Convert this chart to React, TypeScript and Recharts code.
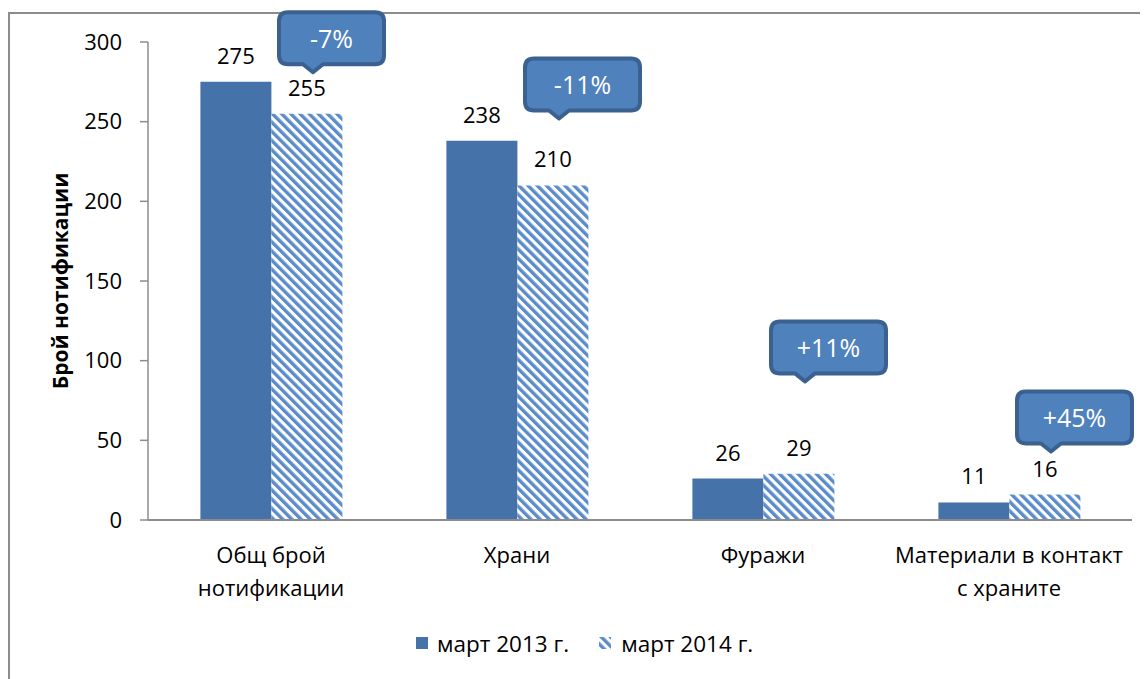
import React from 'react';
import { BarChart, Bar, XAxis, YAxis, LabelList, ReferenceDot } from 'recharts';

const categories = ['Общ брой\nнотификации', 'Храни', 'Фуражи', 'Материали в контакт\nс храните'];
const march2013 = [275, 238, 26, 11];
const march2014 = [255, 210, 29, 16];
const changeLabels = ['-7%', '-11%', '+11%', '+45%'];
const calloutAnchor = [281, 252, 87, 43];
const yTicks = [0, 50, 100, 150, 200, 250, 300];
const seriesNames = ['март 2013 г.', 'март 2014 г.'];

const data = categories.map((c, i) => ({ category: c, m2013: march2013[i], m2014: march2014[i] }));

const FONT = "'Open Sans', 'Noto Sans', sans-serif";
const DARK = '#4672AA';
const STRIPE = '#5A8BCB';
const AXIS = '#8c8c8c';

const Callout = ({ cx, cy, text }: any) => {
  if (cx == null || cy == null) return null;
  const tipX = cx + 42;
  const tipY = cy;
  const W = 75 + 10 * text.length;
  const H = 52;
  const L = tipX - 34;
  const T = tipY - 8 - H;
  const r = 9;
  const d = `M ${L + r},${T} H ${L + W - r} Q ${L + W},${T} ${L + W},${T + r} V ${T + H - r} Q ${L + W},${T + H} ${L + W - r},${T + H} H ${tipX + 10} L ${tipX},${T + H + 8} L ${tipX - 10},${T + H} H ${L + r} Q ${L},${T + H} ${L},${T + H - r} V ${T + r} Q ${L},${T} ${L + r},${T} Z`;
  return (
    <g>
      <path d={d} fill="#4F81BD" stroke="#3A6190" strokeWidth={4} strokeLinejoin="round" />
      <text x={L + W / 2} y={T + H / 2} textAnchor="middle" dominantBaseline="central" fill="#ffffff" fontSize={25} fontFamily={FONT}>
        {text}
      </text>
    </g>
  );
};

const XTick = ({ x, y, payload }: any) => {
  const lines = String(payload.value).split('\n');
  return (
    <g>
      {lines.map((ln, i) => (
        <text key={i} x={x} y={y + 35 + i * 33} textAnchor="middle" fill="#000" fontSize={22} fontFamily={FONT}>
          {ln}
        </text>
      ))}
    </g>
  );
};

const YLabel = ({ viewBox }: any) => {
  const cx = viewBox.x + 52;
  const cy = viewBox.y + viewBox.height / 2;
  return (
    <text x={cx} y={cy} transform={`rotate(-90, ${cx}, ${cy})`} textAnchor="middle" dominantBaseline="central" fontSize={21} fontWeight="bold" fontFamily={FONT} fill="#000">
      Брой нотификации
    </text>
  );
};

export default function App() {
  return (
    <div style={{ position: 'relative', width: 1140, height: 671, overflow: 'hidden', background: '#fff' }}>
      <div style={{ position: 'absolute', left: 0, top: 4, width: 1200, height: 720, border: '2px solid #8c8c8c', boxSizing: 'border-box' }} />
      <svg width={0} height={0} style={{ position: 'absolute' }}>
        <defs>
          <pattern id="hatch" patternUnits="userSpaceOnUse" width={6.5} height={6.5} patternTransform="rotate(-45)">
            <rect x={0} y={0} width={6.5} height={6.5} fill="#ffffff" />
            <rect x={0} y={0} width={3.4} height={6.5} fill={STRIPE} />
          </pattern>
        </defs>
      </svg>
      <div style={{ position: 'absolute', left: 0, top: 0 }}>
        <BarChart width={1140} height={671} data={data} margin={{ top: 34, right: 16, left: 0, bottom: 59 }} barCategoryGap="21.3%" barGap={0}>
          <defs>
            <pattern id="hatch2" patternUnits="userSpaceOnUse" width={6.5} height={6.5} patternTransform="rotate(-45)">
              <rect x={0} y={0} width={6.5} height={6.5} fill="#ffffff" />
              <rect x={0} y={0} width={3.4} height={6.5} fill={STRIPE} />
            </pattern>
          </defs>
          <XAxis dataKey="category" height={100} tickLine={false} tickSize={6} tickMargin={2} axisLine={{ stroke: AXIS, strokeWidth: 2 }} tick={<XTick />} interval={0} />
          <YAxis width={140} domain={[0, 300]} ticks={yTicks} tickSize={8} tickMargin={18} axisLine={{ stroke: AXIS, strokeWidth: 1.5 }} tickLine={{ stroke: AXIS, strokeWidth: 1.5 }} tick={{ fill: '#000', fontSize: 22, fontFamily: FONT }} label={<YLabel />} />
          <Bar dataKey="m2013" name={seriesNames[0]} fill={DARK} isAnimationActive={false}>
            <LabelList dataKey="m2013" position="top" offset={18} fill="#000" fontSize={22} fontFamily={FONT} />
          </Bar>
          <Bar dataKey="m2014" name={seriesNames[1]} fill="url(#hatch2)" isAnimationActive={false}>
            <LabelList dataKey="m2014" position="top" offset={18} fill="#000" fontSize={22} fontFamily={FONT} />
          </Bar>
          {categories.map((c, i) => (
            <ReferenceDot key={i} x={c} y={calloutAnchor[i]} ifOverflow="visible" shape={(p: any) => <Callout cx={p.cx} cy={p.cy} text={changeLabels[i]} />} />
          ))}
        </BarChart>
      </div>
      <div style={{ position: 'absolute', left: 400, top: 620, width: 460, height: 30, display: 'flex', alignItems: 'center', fontFamily: FONT, fontSize: 22.5, color: '#000', whiteSpace: 'nowrap' }}>
        <div style={{ width: 12, height: 12, background: DARK, marginLeft: 8, flex: 'none' }} />
        <span style={{ marginLeft: 9 }}>{seriesNames[0]}</span>
        <svg width={12} height={12} style={{ marginLeft: 30, flex: 'none' }}>
          <rect width={12} height={12} fill="url(#hatch)" />
        </svg>
        <span style={{ marginLeft: 10 }}>{seriesNames[1]}</span>
      </div>
    </div>
  );
}
